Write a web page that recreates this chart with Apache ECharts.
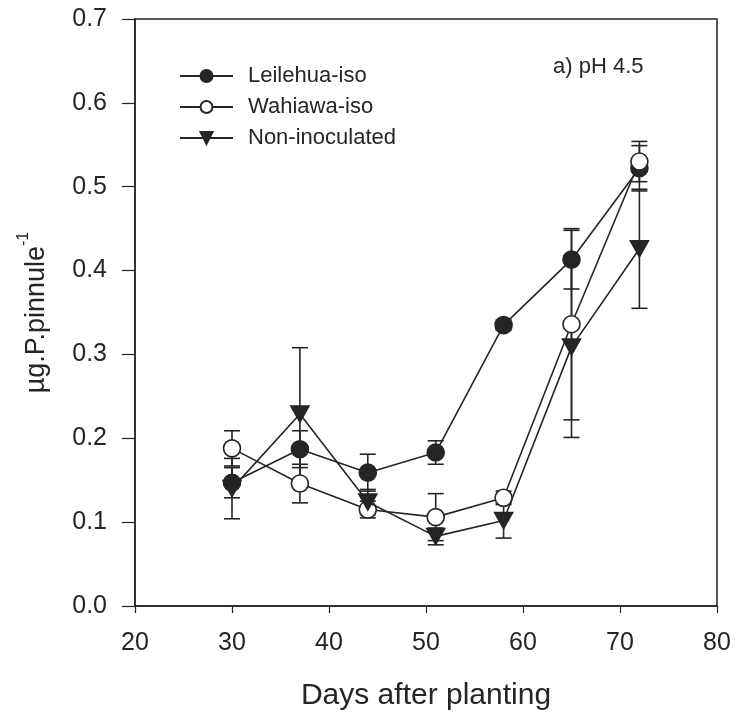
<!DOCTYPE html>
<html>
<head>
<meta charset="utf-8">
<script src="https://cdn.jsdelivr.net/npm/echarts@6/dist/echarts.min.js"></script>
<style>
  html, body { margin: 0; padding: 0; background: #ffffff; }
  #chart { width: 740px; height: 719px; }
</style>
</head>
<body>
<div id="chart"></div>
<script>
// Sampling days after planting
const days = [30, 37, 44, 51, 58, 65, 72];

// Mean P content per pinnule (µg) and its standard error, per treatment
const leilehua    = [0.147, 0.187, 0.159, 0.183, 0.335, 0.413, 0.522];
const leilehuaErr = [0.018, 0.022, 0.022, 0.014, 0.006, 0.035, 0.027];

const wahiawa     = [0.188, 0.146, 0.115, 0.106, 0.129, 0.336, 0.530];
const wahiawaErr  = [0.021, 0.023, 0.010, 0.028, 0.008, 0.114, 0.024];

const nonInoc     = [0.140, 0.229, 0.124, 0.083, 0.102, 0.309, 0.426];
const nonInocErr  = [0.036, 0.079, 0.015, 0.010, 0.021, 0.108, 0.071];

const seriesNames = ['Leilehua-iso', 'Wahiawa-iso', 'Non-inoculated'];
const yTicks = [0, 0.1, 0.2, 0.3, 0.4, 0.5, 0.6, 0.7];
const xTicks = [20, 30, 40, 50, 60, 70, 80];

const INK = '#252525';
const FONT = '"Liberation Sans", Arial, Helvetica, sans-serif';
const TRI_DOWN = 'path://M0,0L20,0L10,18Z';

function pairs(ys) { return days.map((d, i) => [d, ys[i]]); }
function bars(ys, es) { return days.map((d, i) => [d, ys[i] - es[i], ys[i] + es[i]]); }

function errorBarSeries(name, ys, es) {
  return {
    type: 'custom',
    name: name,
    z: 1,
    silent: true,
    data: bars(ys, es),
    encode: { x: 0, y: [1, 2] },
    renderItem: function (params, api) {
      const x = api.value(0);
      const lo = api.coord([x, api.value(1)]);
      const hi = api.coord([x, api.value(2)]);
      const half = 8;
      const st = { stroke: INK, lineWidth: 1.6 };
      return {
        type: 'group',
        children: [
          { type: 'line', shape: { x1: lo[0], y1: lo[1], x2: hi[0], y2: hi[1] }, style: st },
          { type: 'line', shape: { x1: lo[0] - half, y1: lo[1], x2: lo[0] + half, y2: lo[1] }, style: st },
          { type: 'line', shape: { x1: hi[0] - half, y1: hi[1], x2: hi[0] + half, y2: hi[1] }, style: st }
        ]
      };
    }
  };
}

function lineSeries(name, ys, symbol, size, fill, z) {
  return {
    type: 'line',
    name: name,
    z: z,
    data: pairs(ys),
    symbol: symbol,
    symbolSize: size,
    showAllSymbol: true,
    lineStyle: { color: INK, width: 1.6 },
    itemStyle: { color: fill, borderColor: INK, borderWidth: 1.6 },
    emphasis: { disabled: true },
    animation: false
  };
}

const chart = echarts.init(document.getElementById('chart'), null, { renderer: 'canvas' });

chart.setOption({
  backgroundColor: '#ffffff',
  animation: false,
  textStyle: { fontFamily: FONT, color: INK },
  grid: {
    left: 135, right: 23, top: 19, bottom: 113,
    show: true, borderColor: INK, borderWidth: 1.5, backgroundColor: 'transparent'
  },
  legend: {
    data: seriesNames,
    orient: 'vertical',
    left: 174,
    top: 60,
    itemWidth: 53,
    itemHeight: 15,
    itemGap: 9,
    selectedMode: false,
    textStyle: { fontFamily: FONT, fontSize: 22, color: INK, lineHeight: 22, padding: [0, 0, 0, 10] }
  },
  graphic: [
    {
      type: 'text',
      left: 553,
      top: 56,
      style: { text: 'a) pH 4.5', font: '22px ' + FONT, fill: INK }
    }
  ],
  xAxis: {
    type: 'value',
    min: xTicks[0],
    max: xTicks[xTicks.length - 1],
    interval: 10,
    name: 'Days after planting',
    nameLocation: 'middle',
    nameGap: 75,
    nameTextStyle: { fontSize: 30, fontFamily: FONT, color: INK },
    axisLine: { show: true, lineStyle: { color: INK, width: 1.5 } },
    axisTick: { show: true, inside: false, length: 7, lineStyle: { color: INK, width: 1.2 } },
    axisLabel: { fontSize: 25, margin: 25, color: INK, fontFamily: FONT },
    splitLine: { show: false }
  },
  yAxis: {
    type: 'value',
    min: yTicks[0],
    max: yTicks[yTicks.length - 1],
    interval: 0.1,
    name: '{a|µg.P.pinnule}{b|-1}',
    nameLocation: 'middle',
    nameGap: 85,
    nameRotate: 90,
    nameTextStyle: {
      color: INK,
      rich: {
        a: { fontSize: 27, fontFamily: FONT, color: INK, lineHeight: 34, verticalAlign: 'bottom' },
        b: { fontSize: 16, fontFamily: FONT, color: INK, lineHeight: 34, verticalAlign: 'top' }
      }
    },
    axisLine: { show: true, lineStyle: { color: INK, width: 1.5 } },
    axisTick: { show: true, inside: false, length: 13, lineStyle: { color: INK, width: 1.2 } },
    axisLabel: {
      fontSize: 25, margin: 28, color: INK, fontFamily: FONT,
      formatter: function (v) { return v.toFixed(1); }
    },
    splitLine: { show: false }
  },
  series: [
    errorBarSeries('Leilehua-iso SE', leilehua, leilehuaErr),
    errorBarSeries('Wahiawa-iso SE', wahiawa, wahiawaErr),
    errorBarSeries('Non-inoculated SE', nonInoc, nonInocErr),
    lineSeries(seriesNames[0], leilehua, 'circle', 17, INK, 3),
    lineSeries(seriesNames[1], wahiawa, 'circle', 17, '#ffffff', 4),
    lineSeries(seriesNames[2], nonInoc, TRI_DOWN, [18, 16], INK, 5)
  ]
});
</script>
</body>
</html>
